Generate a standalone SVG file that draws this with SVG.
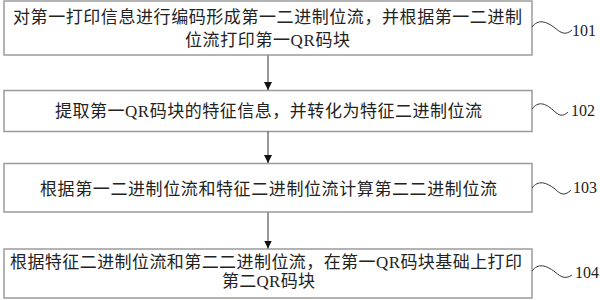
<svg xmlns="http://www.w3.org/2000/svg" width="600" height="300" viewBox="0 0 600 300">
<defs>
<style>
.box{fill:#fff;stroke:#9a9a9a;stroke-width:1.5}
.t{font-family:"Liberation Serif","Noto Sans CJK SC",serif;font-size:17px;fill:#222}
.lbl{font-family:"Liberation Serif",serif;font-size:16px;fill:#222}
.ln{fill:none;stroke:#333;stroke-width:1}
</style>
<marker id="ah" markerWidth="8" markerHeight="8" refX="8" refY="4" orient="auto" markerUnits="userSpaceOnUse">
<path d="M0,0 L8,4 L0,8 Z" fill="#111"/>
</marker>
</defs>
<rect width="600" height="300" fill="#fff"/>
<g id="n101">
<rect class="box" x="4" y="1" width="528" height="54"/>
<text class="t" x="13" y="23" textLength="509" lengthAdjust="spacing">对第一打印信息进行编码形成第一二进制位流，并根据第一二进制</text>
<text class="t" x="185" y="46" textLength="165" lengthAdjust="spacing">位流打印第一QR码块</text>
</g>
<g id="n102">
<rect class="box" x="4" y="90.5" width="528" height="41"/>
<text class="t" x="55" y="117" textLength="427" lengthAdjust="spacing">提取第一QR码块的特征信息，并转化为特征二进制位流</text>
</g>
<g id="n103">
<rect class="box" x="4" y="163.5" width="528" height="48.5"/>
<text class="t" x="40" y="195" textLength="457" lengthAdjust="spacing">根据第一二进制位流和特征二进制位流计算第二二进制位流</text>
</g>
<g id="n104">
<rect class="box" x="4" y="249" width="528" height="49"/>
<text class="t" x="10" y="268" textLength="512" lengthAdjust="spacing">根据特征二进制位流和第二二进制位流，在第一QR码块基础上打印</text>
<text class="t" x="222" y="287" textLength="93" lengthAdjust="spacing">第二QR码块</text>
</g>
<g id="connectors">
<line class="ln" x1="268" y1="55.5" x2="268" y2="90" marker-end="url(#ah)"/>
<line class="ln" x1="268" y1="131.5" x2="268" y2="163" marker-end="url(#ah)"/>
<line class="ln" x1="268" y1="212.5" x2="268" y2="248.5" marker-end="url(#ah)"/>
<path class="ln" d="M532,27 C538,19 546,21 555,28 C562,34 566,35 572,30"/>
<path class="ln" d="M532,109 C538,101 545,103 553,110 C559,116 563,117 568,112"/>
<path class="ln" d="M532,188 C538,180 546,182 555,189 C561,195 565,196 571,190"/>
<path class="ln" d="M532,271 C538,263 546,265 555,272 C562,278 566,279 572,275"/>
</g>
<g id="labels">
<text class="lbl" x="572" y="36">101</text>
<text class="lbl" x="571" y="116">102</text>
<text class="lbl" x="573" y="193">103</text>
<text class="lbl" x="575" y="278">104</text>
</g>
</svg>
